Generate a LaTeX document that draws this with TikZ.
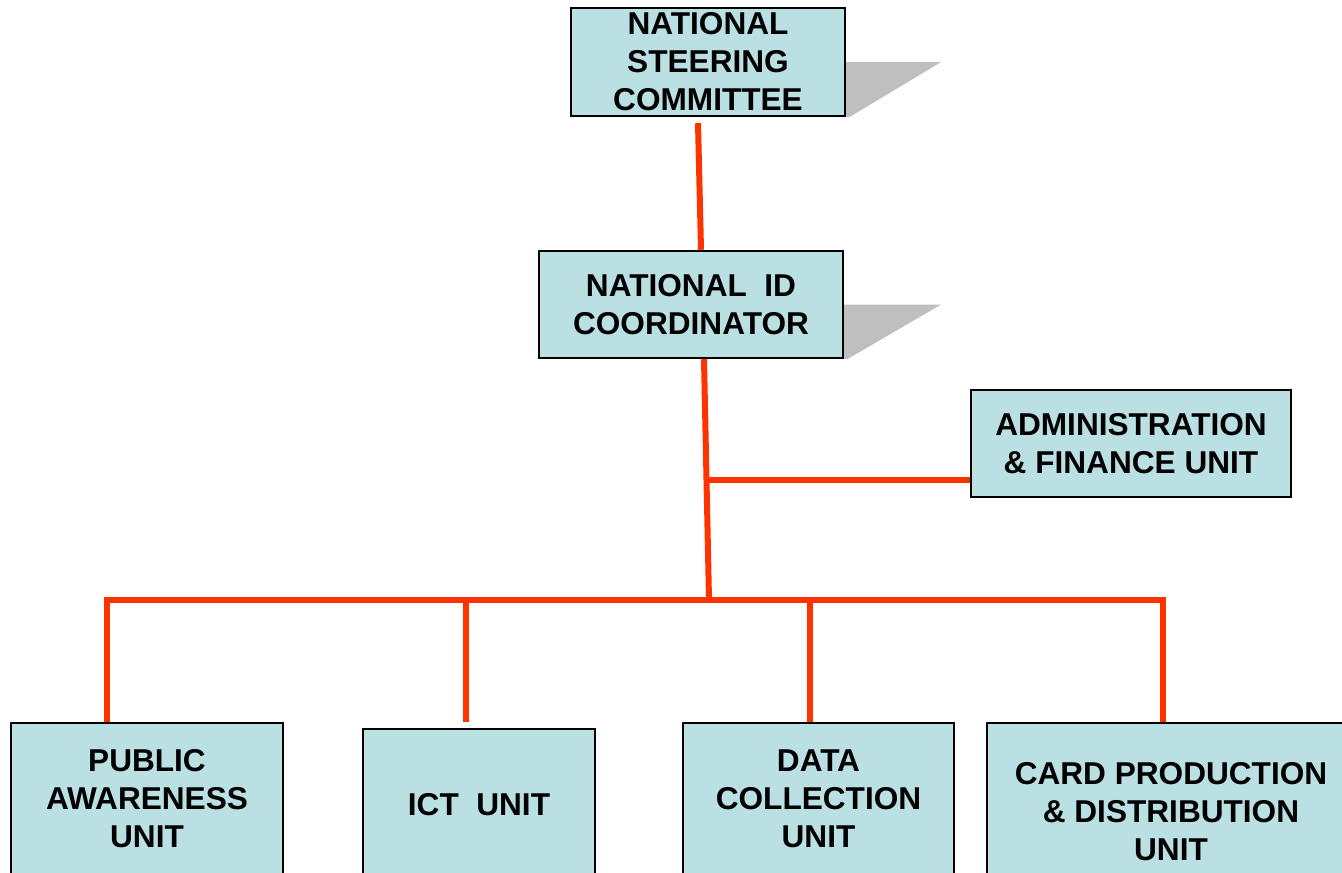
\documentclass[tikz,border=0pt]{standalone}
\usepackage{fontspec}
\setmainfont{Liberation Sans}
\usetikzlibrary{backgrounds}
\definecolor{unitfill}{RGB}{186,224,227}
\definecolor{linkred}{RGB}{255,51,0}
\definecolor{shadowgray}{RGB}{191,191,191}
\begin{document}
\begin{tikzpicture}[x=0.5pt,y=-0.5pt]
        \tikzstyle{unit}=[draw=black,line width=1.2pt,fill=unitfill,inner sep=0pt,align=center,
                          font=\fontsize{15.8}{19}\selectfont\bfseries]
        \tikzstyle{edge}=[draw=linkred,line width=3pt]
        \tikzstyle{shade}=[fill=shadowgray]
        \useasboundingbox (0,0) rectangle (1342,872);

        \node [unit,minimum width=137pt,minimum height=54pt] (nsc) at (708,62) {NATIONAL\\STEERING\\COMMITTEE};
        \node [unit,minimum width=152pt,minimum height=53.5pt] (nidc) at (691,304.5) {NATIONAL~~ID\\COORDINATOR};
        \node [unit,minimum width=160pt,minimum height=53.5pt] (admin) at (1131,443.5) {ADMINISTRATION\\\& FINANCE UNIT};

        \node [unit,minimum width=136pt,minimum height=76pt] (pau) at (147,799) {PUBLIC\\AWARENESS\\UNIT};
        \node [unit,minimum width=116pt,minimum height=76pt] (ict) at (479,805) {ICT~~UNIT};
        \node [unit,minimum width=135.5pt,minimum height=76pt] (dcu) at (818.5,799) {DATA\\COLLECTION\\UNIT};
        \node [unit,minimum width=184pt,minimum height=89pt] (cpd) at (1171,812) {CARD PRODUCTION\\\& DISTRIBUTION\\UNIT};

        \begin{scope}[on background layer]
          \path[shade] (nsc.east) -- ++(95,0) -- ([xshift=1.5pt]nsc.south east) -- (nsc.south east) -- cycle;
          \path[shade] (nidc.east) -- ++(97,0) -- ([xshift=1.5pt]nidc.south east) -- (nidc.south east) -- cycle;
        \end{scope}

        \coordinate (j1) at (709,600);
        \coordinate (j2) at (707,480);
        \coordinate (b1) at (107,600);
        \coordinate (b2) at (466,600);
        \coordinate (b3) at (810,600);
        \coordinate (b4) at (1163,600);

        \path[edge] ([xshift=-5pt,yshift=-3pt]nsc.south) -- ([xshift=5pt]nidc.north);
        \path[edge] ([xshift=6.5pt]nidc.south) -- (j1);
        \path[edge] (j2) -- (j2 -| admin.west);

        \path[edge] (b1 |- pau.north) -- (b1) -- (b4) -- (b4 |- cpd.north);
        \path[edge] (b2) -- ([yshift=3pt]b2 |- ict.north);
        \path[edge] (b3) -- (b3 |- dcu.north);
\end{tikzpicture}
\end{document}
